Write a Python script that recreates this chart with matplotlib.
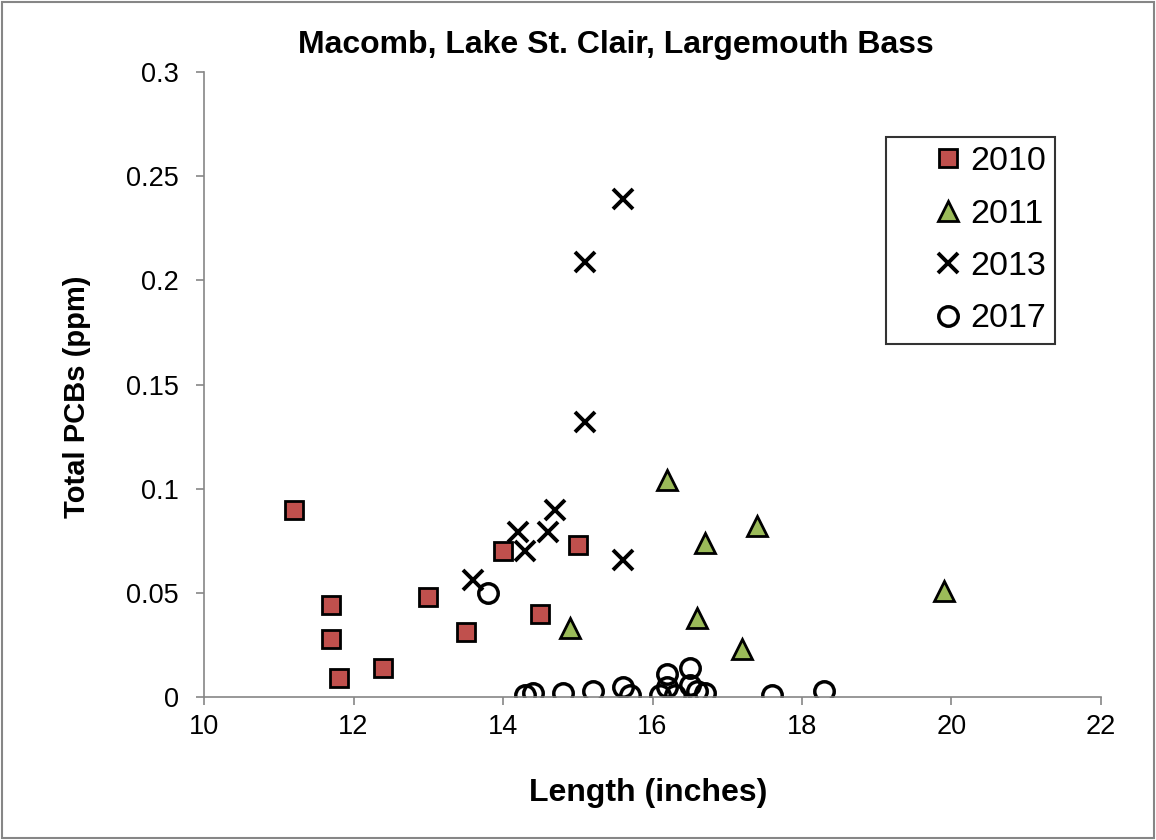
import matplotlib.pyplot as plt
import matplotlib.patches as patches

plt.rcParams['font.family'] = ['Liberation Sans', 'DejaVu Sans']

# data
len_2010 = [11.2, 11.7, 11.7, 11.8, 12.4, 13.0, 13.5, 14.0, 14.5, 15.0]
pcb_2010 = [0.090, 0.044, 0.028, 0.009, 0.014, 0.048, 0.031, 0.070, 0.040, 0.073]

len_2011 = [14.9, 16.2, 16.6, 16.7, 17.2, 17.4, 19.9]
pcb_2011 = [0.033, 0.104, 0.038, 0.074, 0.023, 0.082, 0.051]

len_2013 = [13.6, 14.2, 14.3, 14.6, 14.7, 15.1, 15.1, 15.6, 15.6]
pcb_2013 = [0.056, 0.079, 0.070, 0.079, 0.090, 0.132, 0.209, 0.239, 0.066]

len_2017 = [13.8, 14.3, 14.4, 14.8, 15.2, 15.6, 15.7, 16.1, 16.2, 16.2,
            16.3, 16.5, 16.5, 16.6, 16.7, 17.6, 18.3]
pcb_2017 = [0.050, 0.001, 0.002, 0.002, 0.003, 0.005, 0.001, 0.001, 0.011, 0.005,
            0.001, 0.014, 0.006, 0.003, 0.002, 0.001, 0.003]

x_ticks = [10, 12, 14, 16, 18, 20, 22]
y_ticks = [0, 0.05, 0.1, 0.15, 0.2, 0.25, 0.3]
y_labels = ['0', '0.05', '0.1', '0.15', '0.2', '0.25', '0.3']

fig = plt.figure(figsize=(11.56, 8.4), dpi=100)
ax = fig.add_axes([0.1765, 0.1702, 0.7759, 0.7441])

# outer chart border
fig.patches.append(patches.Rectangle((0.002, 0.002), 0.996, 0.996, transform=fig.transFigure,
                                     fill=False, edgecolor='#868686', linewidth=1.5))

ax.plot(len_2010, pcb_2010, 's', ms=13, mfc='#C0504D', mec='black', mew=2, label='2010')
ax.plot(len_2011, pcb_2011, '^', ms=14, mfc='#9BBB59', mec='black', mew=2, label='2011')
ax.plot(len_2013, pcb_2013, 'x', ms=14, mec='black', mew=2.8, label='2013')
ax.plot(len_2017, pcb_2017, 'o', ms=14, mfc='none', mec='black', mew=2.5, label='2017')

ax.set_xlim(10, 22)
ax.set_ylim(0, 0.3)
ax.set_xticks(x_ticks)
ax.set_yticks(y_ticks)
ax.set_yticklabels(y_labels)
ax.tick_params(labelsize=19.5, color='#868686', length=6, width=1.2)
ax.tick_params(axis='y', pad=12)
ax.tick_params(axis='x', pad=6)

for s in ['top', 'right']:
    ax.spines[s].set_visible(False)
for s in ['left', 'bottom']:
    ax.spines[s].set_color('#868686')
    ax.spines[s].set_linewidth(1.2)

fig.text(616 / 1156, 1 - 45 / 840, 'Macomb, Lake St. Clair, Largemouth Bass',
         fontsize=23, fontweight='bold', ha='center', va='center')
fig.text(648 / 1156, 1 - 793 / 840, 'Length (inches)',
         fontsize=23, fontweight='bold', ha='center', va='center')
fig.text(77 / 1156, 1 - 397 / 840, 'Total PCBs (ppm)', rotation=90,
         fontsize=21, fontweight='bold', ha='center', va='center')

leg = ax.legend(loc='upper right', bbox_to_anchor=(0.9487, 0.896), fontsize=24.5, frameon=True,
                fancybox=False, edgecolor='black', handletextpad=-0.9, labelspacing=0.63,
                borderpad=0.27, handlelength=3.1, markerscale=1.0, borderaxespad=0)
leg.get_frame().set_linewidth(1.5)

plt.savefig('out.png', dpi=100)
